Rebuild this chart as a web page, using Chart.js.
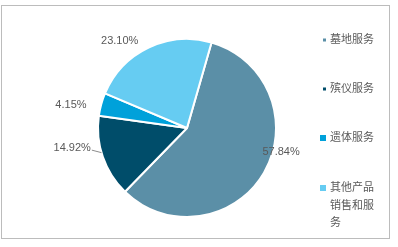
<!DOCTYPE html>
<html>
<head>
<meta charset="utf-8">
<script src="https://cdn.jsdelivr.net/npm/chart.js@4"></script>
<style>
  body { margin: 0; background: #fff; }
  canvas { display: block; }
</style>
</head>
<body>
<canvas id="pie" width="398" height="247"></canvas>
<script>
const categories = ["墓地服务", "殡仪服务", "遗体服务", "其他产品销售和服务"];
const shares = [57.84, 14.92, 4.15, 23.10];
const sliceColors = ["#5b8fa7", "#004d6a", "#00a1da", "#66ccf2"];

const FONT = '"Liberation Sans", "Noto Sans CJK SC", sans-serif';

// label nudges (angle in degrees, distance as share of radius)
const labelPlace = [
  { da: -16, k: 1.09 },
  { da: 9, k: 1.31 },
  { da: -4, k: 1.33 },
  { da: -12, k: 1.24 }
];

const decor = {
  id: "decor",
  beforeDraw(chart) {
    const ctx = chart.ctx;
    ctx.save();
    ctx.strokeStyle = "#bcbcbc";
    ctx.lineWidth = 1;
    ctx.strokeRect(1.5, 5.5, 388, 233);
    ctx.restore();
  },
  afterDatasetsDraw(chart) {
    const ctx = chart.ctx;
    const arcs = chart.getDatasetMeta(0).data;
    ctx.save();
    ctx.font = "11px " + FONT;
    ctx.fillStyle = "#595959";
    ctx.textAlign = "center";
    ctx.textBaseline = "middle";
    arcs.forEach((arc, i) => {
      const p = arc.getProps(["x", "y", "startAngle", "endAngle", "outerRadius"], true);
      const mid = (p.startAngle + p.endAngle) / 2 + labelPlace[i].da * Math.PI / 180;
      const r = p.outerRadius * labelPlace[i].k;
      const lx = p.x + Math.cos(mid) * r;
      const ly = p.y + Math.sin(mid) * r;
      ctx.fillText(shares[i].toFixed(2) + "%", lx, ly);
      if (i === 1) {
        const w = ctx.measureText(shares[i].toFixed(2) + "%").width;
        const em = (p.startAngle + p.endAngle) / 2 + 0.05;
        ctx.strokeStyle = "#8c8c8c";
        ctx.lineWidth = 1;
        ctx.beginPath();
        ctx.moveTo(lx + w / 2 + 1, ly + 2);
        ctx.lineTo(p.x + Math.cos(em) * p.outerRadius, p.y + Math.sin(em) * p.outerRadius);
        ctx.stroke();
      }
    });

    // legend on the right, wrapped at four characters
    ctx.textAlign = "left";
    ctx.font = "11px " + FONT;
    const lx = 330, rows = [40, 89, 138, 188];
    const markSize = [3, 3, 6, 6];
    categories.forEach((name, i) => {
      const chars = Array.from(name);
      const lines = [];
      for (let k = 0; k < chars.length; k += 4) lines.push(chars.slice(k, k + 4).join(""));
      const s = markSize[i];
      ctx.fillStyle = sliceColors[i];
      ctx.fillRect(lx - 4 - s, rows[i] - s / 2, s, s);
      ctx.fillStyle = "#595959";
      lines.forEach((t, j) => ctx.fillText(t, lx, rows[i] + j * 17.5));
    });
    ctx.restore();
  }
};

new Chart(document.getElementById("pie"), {
  type: "pie",
  data: {
    labels: categories,
    datasets: [{
      data: shares,
      backgroundColor: sliceColors,
      borderColor: "#ffffff",
      borderWidth: 2
    }]
  },
  options: {
    responsive: false,
    animation: false,
    rotation: 16,
    layout: { padding: { left: 97, right: 121, top: 38, bottom: 29 } },
    plugins: {
      legend: { display: false },
      tooltip: { enabled: false }
    }
  },
  plugins: [decor]
});
</script>
</body>
</html>
